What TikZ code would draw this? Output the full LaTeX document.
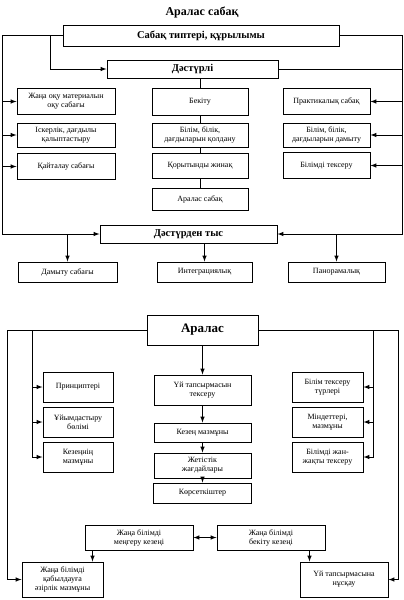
\documentclass[tikz,border=0pt]{standalone}
\usepackage{fontspec}
\setmainfont{Liberation Serif}
\usepackage{tikz}

\tikzset{
  >=latex,
  box/.style={shape=rectangle, draw=black, line width=1pt, align=center, inner sep=1pt,
    font=\fontsize{8}{9}\selectfont},
  head/.style={box, font=\bfseries\fontsize{10.5}{12}\selectfont},
  lcol/.style={box, minimum width=98pt, minimum height=26pt},
  ccol/.style={box, minimum width=96pt},
  rcol/.style={box, minimum width=87pt, minimum height=26pt},
  kind/.style={box, minimum width=97pt, minimum height=20pt},
  side/.style={box, minimum width=71pt, minimum height=30pt},
  mid/.style={box, minimum width=98pt},
  conn/.style={line width=1pt},
}

\begin{document}
\begin{tikzpicture}[x=1pt,y=-1pt]
				\useasboundingbox (0,0) rectangle (404,600);
				\node[font=\bfseries\fontsize{12}{14}\selectfont] (title) at (202,12) {Аралас сабақ};
				% upper part
				\node[head, minimum width=276pt, minimum height=21pt] (typ) at (201,35.5) {Сабақ типтері, құрылымы};
				\node[head, minimum width=171pt, minimum height=18pt] (trad) at (192.5,69) {Дәстүрлі};
				\node[lcol] (l1) at (66,101.5) {Жаңа оқу материалын\\оқу сабағы};
				\node[lcol, minimum height=24pt] (l2) at (66,135) {Іскерлік, дағдылы\\қалыптастыру};
				\node[lcol] (l3) at (66,166.5) {Қайталау сабағы};
				\node[ccol, minimum height=27pt] (c1) at (200,101.5) {Бекіту};
				\node[ccol, minimum height=24pt] (c2) at (200,135) {Білім, білік,\\дағдыларын қолдану};
				\node[ccol, minimum height=25pt] (c3) at (200,165.5) {Қорытынды жинақ};
				\node[ccol, minimum height=22pt] (c4) at (200,199) {Аралас сабақ};
				\node[rcol] (r1) at (326.5,101.5) {Практикалық сабақ};
				\node[rcol, minimum height=24pt] (r2) at (326.5,135) {Білім, білік,\\дағдыларын дамыту};
				\node[rcol] (r3) at (326.5,165.5) {Білімді тексеру};
				\node[head, minimum width=177pt, minimum height=18pt] (nontrad) at (188.5,234) {Дәстүрден тыс};
				\node[kind, minimum width=99pt] (d1) at (67.5,272) {Дамыту сабағы};
				\node[kind, minimum width=95pt] (d2) at (204.5,272) {Интеграциялық};
				\node[kind] (d3) at (336.5,272) {Панорамалық};
				\coordinate (lb) at (2,234);
				\coordinate (lbr) at (50,35.5);
				\coordinate (rb) at (402,234);
				\draw[conn,->] (typ.west) -| (lb) -- (nontrad.west);
				\draw[conn,->] (lbr) |- (trad.west);
				\draw[conn,->] (typ.east) -| (rb) -- (nontrad.east);
				\draw[conn] (trad.east) -- (trad.east -| rb);
				\foreach \n in {l1,l2,l3}
					\draw[conn,->] (\n.west -| lb) -- (\n.west);
				\foreach \n in {r1,r2,r3}
					\draw[conn,->] (\n.east -| rb) -- (\n.east);
				\draw[conn] (trad.south -| c1) -- (c1.north);
				\draw[conn] (c1) -- (c2) -- (c3) -- (c4);
				\draw[conn,->] (d1.north |- lb) -- (d1.north);
				\draw[conn,->] (d2.north |- nontrad.south) -- (d2.north);
				\draw[conn,->] (d3.north |- rb) -- (d3.north);
				% lower part
				\node[head, font=\bfseries\fontsize{13}{15}\selectfont, minimum width=111pt, minimum height=30pt] (mix) at (202.5,330) {Аралас};
				\node[side, minimum width=70pt] (p1) at (78,387) {Принциптері};
				\node[side, minimum width=70pt] (p2) at (78,422) {Ұйымдастыру\\бөлімі};
				\node[side, minimum width=70pt] (p3) at (78,457) {Кезеңнің\\мазмұны};
				\node[side] (q1) at (327.5,387) {Білім тексеру\\түрлері};
				\node[side] (q2) at (327.5,422) {Міндеттері,\\мазмұны};
				\node[side] (q3) at (327.5,457) {Білімді жан-\\жақты тексеру};
				\node[mid, minimum width=97pt, minimum height=30pt] (m1) at (202.5,390) {Үй тапсырмасын\\тексеру};
				\node[mid, minimum width=97pt, minimum height=19pt] (m2) at (202.5,432.5) {Кезең мазмұны};
				\node[mid, minimum width=97pt, minimum height=25pt] (m3) at (202.5,465.5) {Жетістік\\жағдайлары};
				\node[mid, minimum height=20pt] (m4) at (202.5,493) {Көрсеткіштер};
				\node[box, minimum width=108pt, minimum height=25pt] (s1) at (139,537.5) {Жаңа білімді\\меңгеру кезеңі};
				\node[box, minimum width=108pt, minimum height=25pt] (s2) at (271,537.5) {Жаңа білімді\\бекіту кезеңі};
				\node[box, minimum width=81pt, minimum height=35pt] (a1) at (62.5,579.5) {Жаңа білімді\\қабылдауға\\әзірлік мазмұны};
				\node[box, minimum width=88pt, minimum height=35pt] (a2) at (344,579.5) {Үй тапсырмасына\\нұсқау};
				\coordinate (ol) at (7,579.5);
				\coordinate (il) at (32,457);
				\coordinate (or) at (398,579.5);
				\coordinate (ir) at (373,457);
				\draw[conn,->] (mix.west) -| (ol) -- (a1.west);
				\draw[conn,->] (mix.east) -| (or) -- (a2.east);
				\draw[conn,->] (mix.west -| il) -- (il) -- (p3.west);
				\draw[conn,->] (mix.east -| ir) -- (ir) -- (q3.east);
				\foreach \n in {p1,p2}
					\draw[conn,->] (\n.west -| il) -- (\n.west);
				\foreach \n in {q1,q2}
					\draw[conn,->] (\n.east -| ir) -- (\n.east);
				\draw[conn,->] (mix) -- (m1);
				\draw[conn,->] (m1) -- (m2);
				\draw[conn,->] (m2) -- (m3);
				\draw[conn,->] (m3) -- (m4);
				\draw[conn,<->] (s1) -- (s2);
				\draw[conn,->] ([xshift=8pt]s1.south west) -- ([xshift=8pt]s1.south west |- a1.north);
				\draw[conn,->] ([xshift=10pt]a2.north west |- s2.south) -- ([xshift=10pt]a2.north west);
			\end{tikzpicture}
\end{document}
